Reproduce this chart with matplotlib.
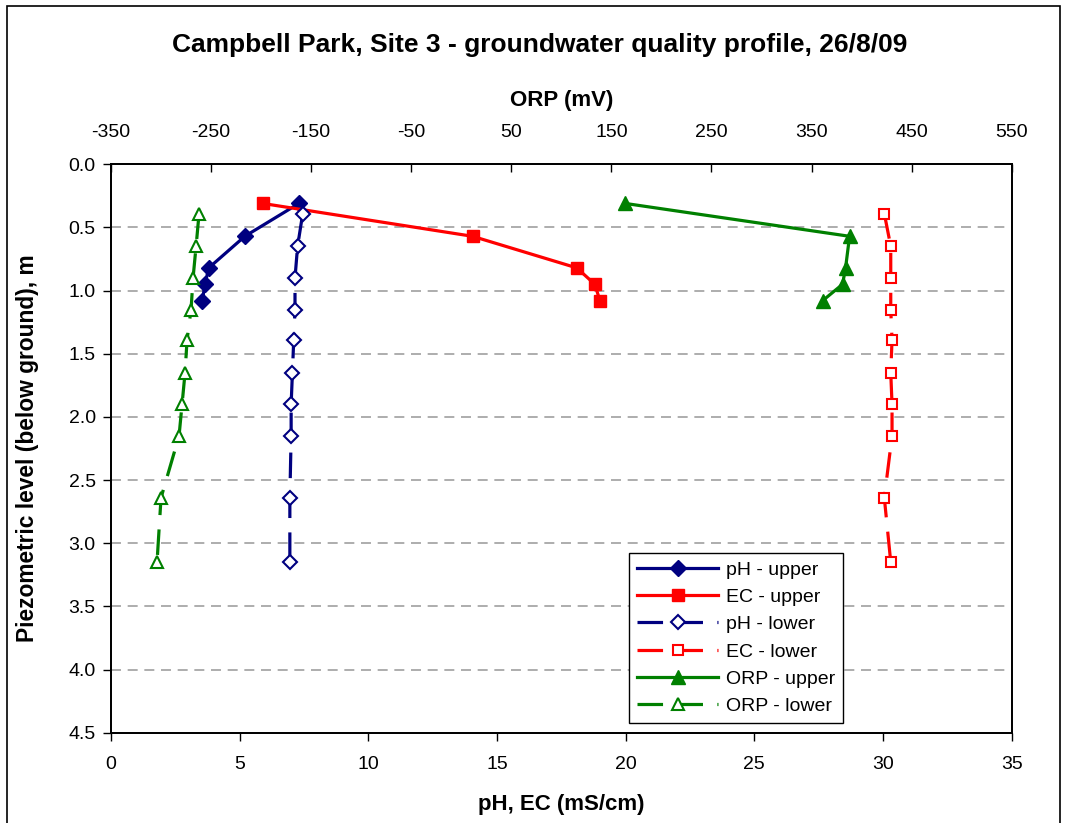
import matplotlib
matplotlib.use("Agg")
import matplotlib.pyplot as plt
from matplotlib.patches import Rectangle

# ---- data ----
depth_upper = [0.31, 0.57, 0.82, 0.95, 1.08]
ph_upper = [7.3, 5.2, 3.8, 3.65, 3.55]
ec_upper = [5.9, 14.05, 18.1, 18.8, 19.0]
orp_upper = [164, 388, 384, 381, 361]

depth_lower = [0.39, 0.65, 0.90, 1.15, 1.39, 1.65, 1.90, 2.15, 2.64, 3.15]
ph_lower = [7.45, 7.25, 7.15, 7.15, 7.1, 7.05, 7.0, 7.0, 6.95, 6.95]
ec_lower = [30.05, 30.3, 30.3, 30.3, 30.35, 30.3, 30.35, 30.35, 30.05, 30.3]
orp_lower = [-262, -265, -268, -270, -274, -276, -279, -282, -300, -304]

title = "Campbell Park, Site 3 - groundwater quality profile, 26/8/09"
x_label = "pH, EC (mS/cm)"
x2_label = "ORP (mV)"
y_label = "Piezometric level (below ground), m"
x_ticks = [0, 5, 10, 15, 20, 25, 30, 35]
x2_ticks = [-350, -250, -150, -50, 50, 150, 250, 350, 450, 550]
y_ticks = [0.0, 0.5, 1.0, 1.5, 2.0, 2.5, 3.0, 3.5, 4.0, 4.5]

NAVY = "#000080"
RED = "#FF0000"
GREEN = "#008000"

plt.rcParams['font.family'] = ['Liberation Sans', 'DejaVu Sans']
plt.rcParams['axes.unicode_minus'] = False

fig = plt.figure(figsize=(10.65, 8.23), dpi=100)
ax = fig.add_axes([111/1065, 1-732.7/823, 900.7/1065, 568.4/823])
ax2 = ax.twiny()

lw = 2.3
dash = (8, 4.5)

l1, = ax.plot(ph_upper, depth_upper, color=NAVY, lw=lw, marker='D', ms=8.5,
              mfc=NAVY, mec=NAVY, label="pH - upper", zorder=3)
l2, = ax.plot(ec_upper, depth_upper, color=RED, lw=lw, marker='s', ms=8,
              mfc=RED, mec=RED, label="EC - upper", zorder=3)
l3, = ax.plot(ph_lower, depth_lower, color=NAVY, lw=lw, marker='D', ms=7.5,
              mfc='white', mec=NAVY, mew=1.5, dashes=dash, label="pH - lower", zorder=3)
l4, = ax.plot(ec_lower, depth_lower, color=RED, lw=lw, marker='s', ms=7,
              mfc='white', mec=RED, mew=1.5, dashes=dash, label="EC - lower", zorder=3)
l5, = ax2.plot(orp_upper, depth_upper, color=GREEN, lw=lw, marker='^', ms=9.5,
               mfc=GREEN, mec=GREEN, label="ORP - upper", zorder=3)
l6, = ax2.plot(orp_lower, depth_lower, color=GREEN, lw=lw, marker='^', ms=8.5,
               mfc='white', mec=GREEN, mew=1.5, dashes=dash, label="ORP - lower", zorder=3)

ax.set_xlim(0, 35)
ax.set_ylim(4.5, 0)
ax2.set_xlim(-350, 550)
ax.set_xticks(x_ticks)
ax.set_yticks(y_ticks)
ax.set_yticklabels([f"{v:.1f}" for v in y_ticks])
ax2.set_xticks(x2_ticks)

for v in y_ticks[1:-1]:
    ax.axhline(v, color="#a0a0a0", lw=1.2, dashes=(6, 4), zorder=1)

ax.tick_params(axis='x', direction='out', length=6, width=1, labelsize=14, pad=11)
ax.tick_params(axis='y', direction='out', length=6, width=1, labelsize=14, pad=5)
ax2.tick_params(axis='x', direction='in', length=6, width=1, labelsize=14, pad=17)

for a in (ax, ax2):
    for s in a.spines.values():
        s.set_linewidth(1.3)
        s.set_color('black')

ax.set_xlabel(x_label, fontsize=16, fontweight='bold')
ax.xaxis.set_label_coords(0.5, -0.108)
ax2.set_xlabel(x2_label, fontsize=16, fontweight='bold')
ax2.xaxis.set_label_coords(0.5, 1.103)
ax.set_ylabel(y_label, fontsize=16.4, fontweight='bold')
ax.yaxis.set_label_coords(-0.080, 0.5)

fig.text(540/1065, 1-45/823, title, ha='center', va='center', fontsize=19, fontweight='bold')

leg = ax2.legend(handles=[l1, l2, l3, l4, l5, l6], loc='lower left',
                 bbox_to_anchor=(0.575, 0.017), borderaxespad=0, fontsize=14,
                 handlelength=4.2, labelspacing=0.5, handletextpad=0.4,
                 borderpad=0.4, fancybox=False, framealpha=1, edgecolor='black')
leg.get_frame().set_linewidth(1.0)

fig.patches.append(Rectangle((7/1065, -0.01), (1060-7)/1065, 1.01-6/823,
                             transform=fig.transFigure, fill=False,
                             edgecolor='black', lw=1.2))

fig.savefig("out.png", dpi=100)
